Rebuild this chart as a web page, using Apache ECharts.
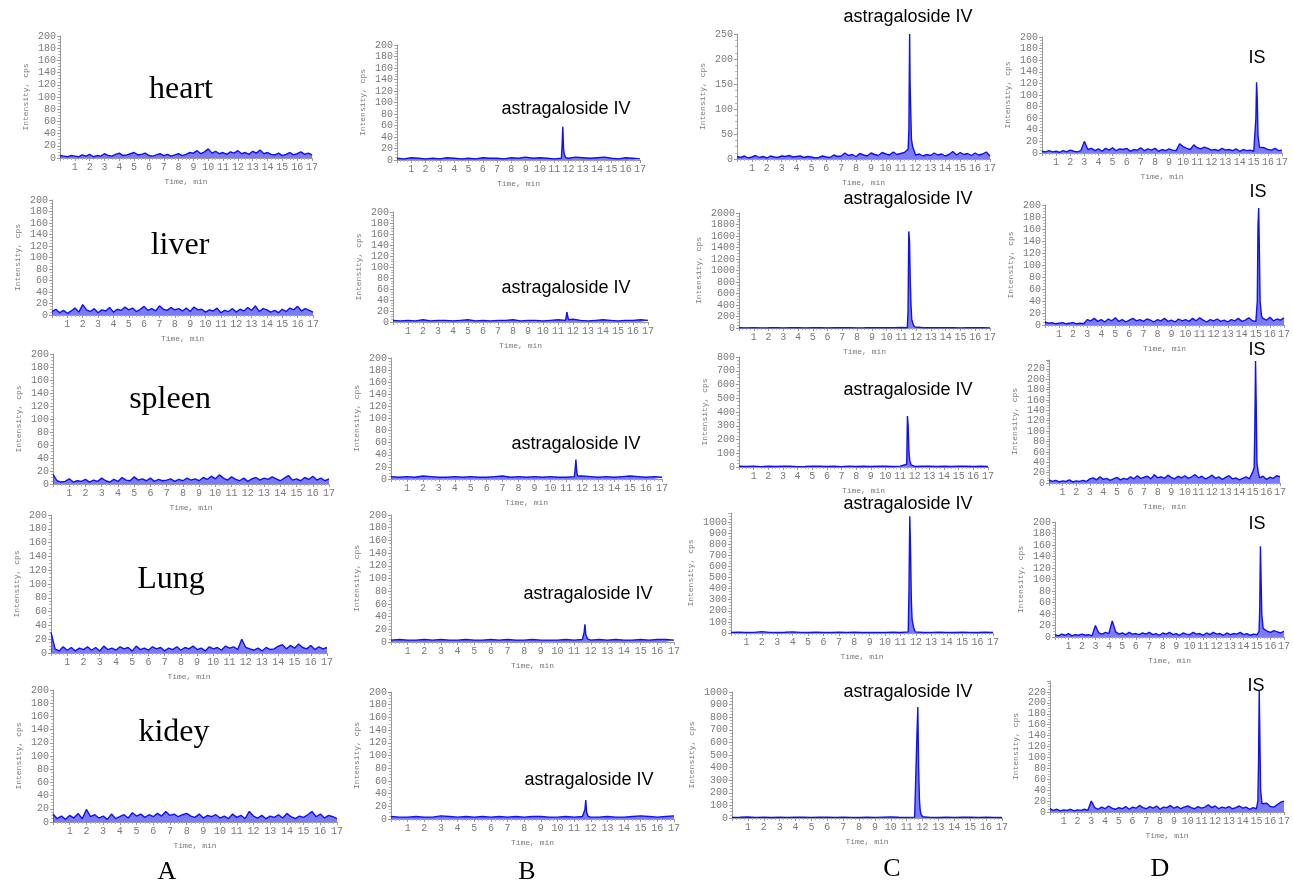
<!DOCTYPE html>
<html>
<head>
<meta charset="utf-8">
<title>chromatograms</title>
<script src="https://cdn.jsdelivr.net/npm/echarts@6/dist/echarts.min.js"></script>
<style>
  html, body { margin: 0; padding: 0; background: #fff; }
  #chart { width: 1293px; height: 885px; }
</style>
</head>
<body>
<div id="chart"></div>
<script>
// time axes (min)
var timeBase = [0,0.25,0.5,0.75,1,1.25,1.5,1.75,2,2.25,2.5,2.75,3,3.25,3.5,3.75,4,4.25,4.5,4.75,5,5.25,5.5,5.75,6,6.25,6.5,6.75,7,7.25,7.5,7.75,8,8.25,8.5,8.75,9,9.25,9.5,9.75,10,10.25,10.5,10.75,11,11.25,11.5,11.75,12,12.25,12.5,12.75,13,13.25,13.5,13.75,14,14.25,14.5,14.75,15,15.25,15.5,15.75,16,16.25,16.5,16.75,17];
var timeHalf = [0,0.5,1,1.5,2,2.5,3,3.5,4,4.5,5,5.5,6,6.5,7,7.5,8,8.5,9,9.5,10,10.5,11,11.5,12,12.5,13,13.5,14,14.5,15,15.5,16,16.5,17];

// column A: blank tissue (timeBase)
var heartVals = [4,3,2,4,3,2,5,3,6,2, 4,3,7,4,3,6,8,4,5,7, 9,5,6,8,4,3,5,7,4,6, 3,5,7,4,6,9,8,12,7,10, 15,8,11,7,9,6,10,8,12,7, 9,6,11,8,13,7,9,6,5,8, 4,6,9,5,7,10,6,8,5];
var liverVals = [6,10,4,8,3,7,12,5,18,9, 6,11,4,9,7,13,5,10,8,14, 9,12,6,10,15,8,11,7,16,10, 8,13,9,11,7,12,6,14,9,10, 5,9,7,12,4,8,6,11,5,10, 7,13,8,16,6,11,9,5,8,4, 10,6,12,9,15,7,11,8,5];
var spleenVals = [15,5,3,4,8,3,5,4,7,3, 6,4,9,5,3,7,4,10,6,5, 11,6,8,5,9,4,7,5,6,8, 4,7,5,9,6,8,5,10,7,12, 8,14,9,6,11,7,5,9,4,8, 10,6,9,7,11,8,5,9,13,6, 8,5,10,7,12,6,9,5,8];
var lungVals = [30,6,3,9,4,8,3,7,5,9, 4,8,3,10,5,7,4,9,6,8, 3,10,5,7,4,9,6,8,3,7, 5,9,4,8,6,10,5,7,3,9, 6,8,4,10,7,9,5,20,8,6, 4,7,3,8,5,6,10,12,6,11, 7,13,8,6,11,5,9,6,8];
var kideyVals = [12,5,9,4,10,6,13,5,19,8, 11,6,9,4,12,5,8,11,6,14, 9,12,7,11,8,13,9,16,10,12, 8,11,13,9,7,12,6,10,8,11, 6,9,5,12,7,10,5,16,9,6, 10,5,9,7,11,6,13,8,5,9, 7,11,16,8,12,6,10,8,5];

// column B: baselines (timeHalf) + astragaloside IV peaks [t, cps]
var b1Vals = [3,2,4,3,2,3,2,4,3,2, 3,2,4,3,3,2,4,3,5,3, 4,3,2,6,3,5,4,3,4,5, 3,2,4,3,2];
var b1Peak = [[11.5,3],[11.55,25],[11.6,58],[11.65,20],[11.7,10],[11.8,4]];
var b2Vals = [3,2,3,2,4,2,3,3,2,3, 4,2,3,2,3,3,4,2,3,3, 2,3,4,3,5,3,2,3,4,3, 2,3,3,4,3];
var b2Peak = [[11.55,4],[11.6,18],[11.65,10],[11.7,4]];
var b3Vals = [4,3,4,3,5,4,3,3,4,3, 4,3,3,4,5,3,4,3,4,3, 4,3,3,4,5,4,3,4,3,4, 5,4,3,4,3];
var b3Peak = [[11.5,4],[11.55,15],[11.6,32],[11.65,12],[11.7,5]];
var b4Vals = [3,4,3,3,4,3,4,3,3,4, 3,3,4,3,4,3,3,4,3,3, 3,4,3,4,3,4,3,4,3,3, 4,3,4,4,3];
var b4Peak = [[11.55,4],[11.6,15],[11.65,28],[11.7,12],[11.8,5]];
var b5Vals = [4,3,3,4,3,3,5,4,3,4, 3,4,3,4,3,4,3,4,4,3, 3,4,3,4,3,3,4,3,3,4, 5,4,3,4,5];
var b5Peak = [[11.6,4],[11.65,15],[11.7,30],[11.75,10],[11.85,4]];

// column C: tissue samples
var c1Vals = [5,3,6,2,4,7,3,5,2,6, 4,3,6,5,7,4,5,6,3,5, 4,2,3,6,4,3,8,5,6,12, 7,9,5,11,8,6,12,9,7,13, 10,8,14,9,11,13,25,12,8,10, 6,9,7,12,8,10,6,9,15,8, 13,9,11,7,12,8,10,14,6];
var c1Peak = [[11.5,20],[11.55,60],[11.6,250],[11.63,150],[11.68,90],[11.72,40],[11.8,25]];
var c2Vals = [4,3,5,3,4,6,3,5,4,3, 5,4,3,6,4,5,3,4,6,5, 4,5,8,6,5,4,6,5,4,5, 3,4,5,4,3];
var c2Peak = [[11.4,5],[11.45,300],[11.5,1680],[11.55,1500],[11.6,800],[11.65,400],[11.7,150],[11.8,60],[11.9,20],[12,10]];
var c3Vals = [5,4,6,3,5,4,6,5,3,4, 6,5,4,5,3,6,4,5,4,6, 5,4,6,5,4,5,6,4,5,4, 6,5,4,5,4];
var c3Peak = [[11.45,20],[11.5,370],[11.55,300],[11.6,120],[11.65,50],[11.75,15]];
var c4Vals = [6,8,5,6,12,6,5,7,10,6, 5,7,6,5,8,6,7,5,6,5, 6,7,5,6,7,5,6,8,6,5, 7,6,5,8,6];
var c4Peak = [[11.5,10],[11.55,400],[11.6,1050],[11.65,750],[11.7,300],[11.75,120],[11.85,50],[11.95,10]];
var c5Vals = [5,6,8,5,6,4,6,5,7,6, 5,6,7,5,6,5,4,6,5,7, 8,6,5,7,6,5,4,6,5,7, 6,5,6,5,4];
var c5Peak = [[11.6,10],[11.65,680],[11.7,880],[11.75,400],[11.8,150],[11.85,60],[11.9,30],[12,10]];

// column D: internal standard
var d1Vals = [3,2,4,2,3,1,4,2,5,3, 2,4,20,6,8,4,7,3,8,5, 9,4,7,6,8,3,6,5,9,4, 7,5,8,3,6,4,7,5,4,16, 11,8,6,14,9,7,10,8,5,6, 4,8,5,6,4,7,3,6,4,5, 3,5,8,9,6,5,8,4,5];
var d1Peak = [[15.1,6],[15.15,60],[15.2,122],[15.25,90],[15.3,30],[15.4,10]];
var d2Vals = [5,3,4,2,3,4,2,3,4,2, 3,2,9,7,11,6,9,5,10,7, 12,6,9,5,8,11,7,9,6,10, 8,5,9,7,11,6,8,5,10,7, 9,6,11,7,12,8,5,9,7,10, 6,8,5,9,7,11,6,8,12,7, 6,9,11,8,13,7,10,8,12];
var d2Peak = [[15.05,8],[15.1,40],[15.15,165],[15.2,195],[15.25,120],[15.3,40],[15.4,15]];
var d3Vals = [6,3,5,2,4,3,6,2,4,3, 5,3,8,10,6,12,7,9,5,8, 11,6,9,7,12,8,14,9,11,13, 8,16,10,12,9,15,11,8,13,10, 14,9,12,16,10,13,8,11,15,9, 12,7,11,14,8,10,6,9,12,8, 22,14,10,13,7,11,9,14,12];
var d3Peak = [[15.1,30],[15.15,110],[15.2,235],[15.25,150],[15.3,40],[15.4,20]];
var d4Vals = [4,2,5,3,6,2,4,3,5,3, 4,2,20,7,5,8,6,28,9,5, 7,4,8,5,6,4,7,5,8,4, 6,3,7,5,8,4,6,3,7,5, 4,8,5,6,3,7,4,8,5,6, 3,7,4,6,5,8,4,6,3,5, 4,6,12,10,8,11,9,7,10];
var d4Peak = [[15.15,10],[15.2,50],[15.25,158],[15.3,100],[15.35,40],[15.45,15]];
var d5Vals = [6,3,5,2,4,3,5,2,4,3, 5,3,20,8,5,9,6,11,7,5, 8,6,10,5,9,7,12,8,6,10, 7,11,5,9,8,12,7,10,6,9, 11,8,6,10,7,9,13,8,11,6, 9,7,10,6,8,11,7,9,5,8, 6,14,12,16,10,9,13,18,20];
var d5Peak = [[15.1,20],[15.15,90],[15.2,222],[15.25,130],[15.3,40],[15.4,15]];

var organLabels = ['heart', 'liver', 'spleen', 'Lung', 'kidey'];
var columnLabels = ['A', 'B', 'C', 'D'];

// grid box [left, top, width, height] and y range for each panel, row by row
var panels = [
  {g:[60,36,252,122],   ymax:200,  step:20,  t:timeBase, v:heartVals},
  {g:[397,45,243,115],  ymax:200,  step:20,  t:timeHalf, v:b1Vals, pk:b1Peak},
  {g:[737,34,253,125],  ymax:250,  step:50,  t:timeBase, v:c1Vals, pk:c1Peak},
  {g:[1042,37,240,116], ymax:200,  step:20,  t:timeBase, v:d1Vals, pk:d1Peak},

  {g:[52,200,261,115],  ymax:200,  step:20,  t:timeBase, v:liverVals},
  {g:[393,212,255,110], ymax:200,  step:20,  t:timeHalf, v:b2Vals, pk:b2Peak},
  {g:[739,213,251,115], ymax:2000, step:200, t:timeHalf, v:c2Vals, pk:c2Peak},
  {g:[1045,205,240,120],ymax:200,  step:20,  t:timeBase, v:d2Vals, pk:d2Peak},

  {g:[53,354,276,130],  ymax:200,  step:20,  t:timeBase, v:spleenVals},
  {g:[391,358,271,121], ymax:200,  step:20,  t:timeHalf, v:b3Vals, pk:b3Peak},
  {g:[739,357,249,110], ymax:800,  step:100, t:timeHalf, v:c3Vals, pk:c3Peak},
  {g:[1049,360,231,123],ymax:237,  step:20,  t:timeBase, v:d3Vals, pk:d3Peak, hideMax:true},

  {g:[51,515,276,138],  ymax:200,  step:20,  t:timeBase, v:lungVals},
  {g:[391,515,283,127], ymax:200,  step:20,  t:timeHalf, v:b4Vals, pk:b4Peak},
  {g:[731,513,262,120], ymax:1080, step:100, t:timeHalf, v:c4Vals, pk:c4Peak, hideMax:true},
  {g:[1055,522,230,115],ymax:200,  step:20,  t:timeBase, v:d4Vals, pk:d4Peak},

  {g:[53,690,284,132],  ymax:200,  step:20,  t:timeBase, v:kideyVals},
  {g:[391,692,283,127], ymax:200,  step:20,  t:timeHalf, v:b5Vals, pk:b5Peak},
  {g:[732,692,270,126], ymax:1000, step:100, t:timeHalf, v:c5Vals, pk:c5Peak},
  {g:[1050,681,237,131],ymax:240,  step:20,  t:timeBase, v:d5Vals, pk:d5Peak, hideMax:true}
];

// text positions [x, y] (centre)
var organPos = [[181,90],[180,246],[170,400],[171,580],[174,733]];
var astraPos = [[566,109],[908,17],[566,288],[908,199],[576,444],[908,390],[588,594],[908,504],[589,780],[908,692]];
var isPos = [[1257,58],[1258,192],[1257,350],[1257,524],[1256,686]];
var columnPos = [[167,872],[527,872],[892,869],[1160,869]];

function buildData(times, vals, peak) {
  var pts = [];
  var n = Math.min(times.length, vals.length);
  for (var i = 0; i < n; i++) pts.push([times[i], vals[i]]);
  if (peak) {
    var lo = peak[0][0], hi = peak[peak.length - 1][0];
    pts = pts.filter(function (p) { return p[0] < lo || p[0] > hi; }).concat(peak);
    pts.sort(function (a, b) { return a[0] - b[0]; });
  }
  return pts;
}

var chart = echarts.init(document.getElementById('chart'), null, {renderer: 'canvas'});

var axisGray = '#9a9a9a';
var traceBlue = '#1010f0';
var tickFont = {color: '#7a7a7a', fontSize: 10, fontFamily: 'Liberation Mono'};
var nameFont = {color: '#7a7a7a', fontSize: 8, fontFamily: 'Liberation Mono'};

var grids = [], xAxes = [], yAxes = [], series = [];
panels.forEach(function (p, i) {
  grids.push({left: p.g[0], top: p.g[1], width: p.g[2], height: p.g[3]});
  xAxes.push({
    type: 'value', gridIndex: i, min: 0, max: 17, interval: 1,
    name: 'Time, min', nameLocation: 'middle', nameGap: 20, nameTextStyle: nameFont,
    axisLine: {lineStyle: {color: axisGray, width: 1}},
    axisTick: {length: 3, lineStyle: {color: axisGray}},
    minorTick: {show: true, splitNumber: 4, length: 2, lineStyle: {color: '#b5b5b5'}},
    splitLine: {show: false},
    axisLabel: Object.assign({margin: 4, formatter: function (v) { return v === 0 ? '' : String(v); }}, tickFont)
  });
  yAxes.push({
    type: 'value', gridIndex: i, min: 0, max: p.ymax, interval: p.step,
    name: 'Intensity, cps', nameLocation: 'middle', nameRotate: 90,
    nameGap: p.ymax >= 1000 ? 36 : 30, nameTextStyle: nameFont,
    axisLine: {show: true, lineStyle: {color: axisGray, width: 1}},
    axisTick: {show: true, length: 3, lineStyle: {color: axisGray}},
    minorTick: {show: true, splitNumber: 4, length: 2, lineStyle: {color: '#b5b5b5'}},
    splitLine: {show: false},
    axisLabel: Object.assign({margin: 4, showMaxLabel: p.hideMax ? false : null,
      formatter: function (v) { return String(v); }}, tickFont)
  });
  series.push({
    type: 'line', xAxisIndex: i, yAxisIndex: i,
    data: buildData(p.t, p.v, p.pk),
    showSymbol: false, sampling: null, silent: true,
    lineStyle: {color: traceBlue, width: 1.4},
    itemStyle: {color: traceBlue},
    areaStyle: {color: traceBlue, opacity: 0.55}
  });
});

var texts = [];
organLabels.forEach(function (s, i) {
  texts.push({type: 'text', x: organPos[i][0], y: organPos[i][1],
    style: {text: s, font: '32px "Liberation Serif"', fill: '#000', textAlign: 'center', textVerticalAlign: 'middle'}});
});
astraPos.forEach(function (pt) {
  texts.push({type: 'text', x: pt[0], y: pt[1],
    style: {text: 'astragaloside IV', font: '18px "Liberation Sans"', fill: '#000', textAlign: 'center', textVerticalAlign: 'middle'}});
});
isPos.forEach(function (pt) {
  texts.push({type: 'text', x: pt[0], y: pt[1],
    style: {text: 'IS', font: '18px "Liberation Sans"', fill: '#000', textAlign: 'center', textVerticalAlign: 'middle'}});
});
columnLabels.forEach(function (s, i) {
  texts.push({type: 'text', x: columnPos[i][0], y: columnPos[i][1],
    style: {text: s, font: '26px "Liberation Serif"', fill: '#000', textAlign: 'center', textVerticalAlign: 'middle'}});
});

var option = {
  animation: false,
  backgroundColor: '#fff',
  grid: grids,
  xAxis: xAxes,
  yAxis: yAxes,
  series: series,
  graphic: texts
};
chart.setOption(option);
</script>
</body>
</html>
